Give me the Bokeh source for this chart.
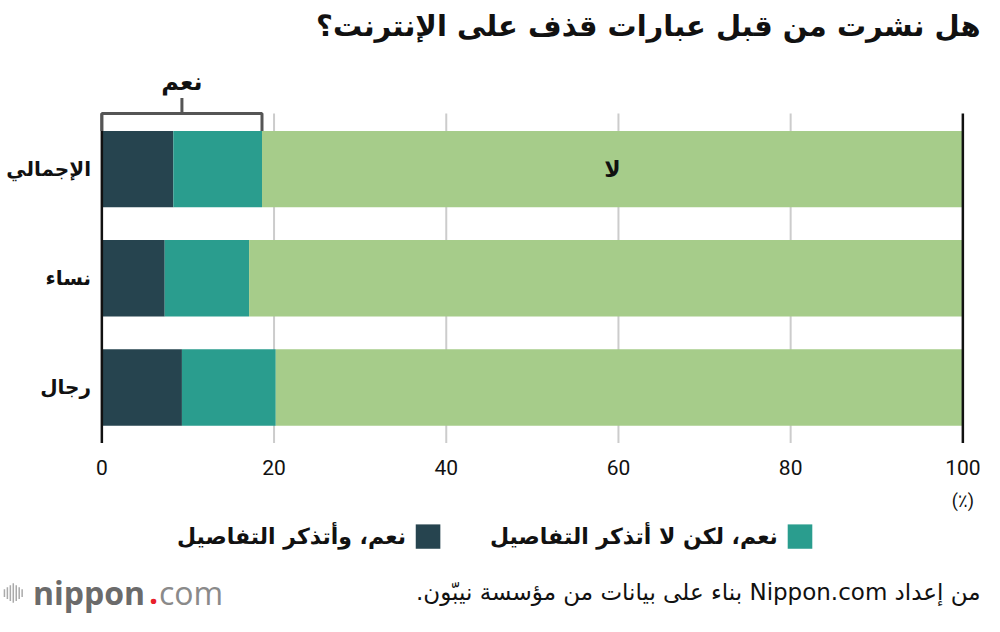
from bokeh.plotting import figure
from bokeh.models import Range1d
from bokeh.core.properties import value
from bokeh.embed import file_html
from bokeh.resources import INLINE

# ---------------- data ----------------
categories = ["الإجمالي", "نساء", "رجال"]
yes_remember = [8.3, 7.3, 9.3]          # نعم، وأتذكر التفاصيل
yes_not_remember = [10.3, 9.8, 10.9]    # نعم، لكن لا أتذكر التفاصيل
no_values = [81.4, 82.9, 79.8]          # لا
ticks = [0, 20, 40, 60, 80, 100]
tick_labels = ["0", "20", "40", "60", "80", "100"]
title_text = "هل نشرت من قبل عبارات قذف على الإنترنت؟"
legend_labels = ["نعم، لكن لا أتذكر التفاصيل", "نعم، وأتذكر التفاصيل"]
bracket_label = "نعم"
no_label = "لا"
unit_label = "(٪)"
source_text = "من إعداد Nippon.com بناء على بيانات من مؤسسة نيبّون."

# ---------------- style ----------------
C_DARK = "#26444f"
C_TEAL = "#2a9d8e"
C_GREEN = "#a6cc8a"
ARABIC_FONT = value("DejaVu Sans")
NUM_FONT = value("Roboto")

W, H = 984, 616

def rtl(s):
    return "\u202b" + s + "\u202c"

# layout coordinates (0..1000 x 0..632) -> data coordinates
def X(px):
    return (px - 103) / 8.75

def Y(py):
    return 3.0 - (py - 61) / 112.0

p = figure(width=W, height=H, output_backend="svg", toolbar_location=None,
           x_range=Range1d(X(0), X(1000)), y_range=Range1d(Y(632), Y(0)),
           min_border=0, min_border_left=0, min_border_right=0,
           min_border_top=0, min_border_bottom=0)
p.axis.visible = False
p.grid.visible = False
p.outline_line_color = None
p.background_fill_color = "white"
p.border_fill_color = "white"

n = len(categories)
ypos = [n - 1 - i for i in range(n)]
bar_h = 0.7

# gridlines (grey under bars)
inner = [t for t in ticks if 0 < t < 100]
outer = [t for t in ticks if t in (0, 100)]
grid_top = Y(116)
grid_bot = Y(454)
p.segment(x0=inner, y0=[grid_bot] * len(inner), x1=inner, y1=[grid_top] * len(inner),
          line_color="#cccccc", line_width=2)

# stacked bars
left1 = [0] * n
right1 = yes_remember
right2 = [a + b for a, b in zip(yes_remember, yes_not_remember)]
right3 = [a + b for a, b in zip(right2, no_values)]
p.hbar(y=ypos, left=left1, right=right1, height=bar_h, fill_color=C_DARK, line_color=None)
p.hbar(y=ypos, left=right1, right=right2, height=bar_h, fill_color=C_TEAL, line_color=None)
p.hbar(y=ypos, left=right2, right=right3, height=bar_h, fill_color=C_GREEN, line_color=None)

# black lines at 0 and 100
p.segment(x0=outer, y0=[grid_bot] * len(outer), x1=outer, y1=[grid_top] * len(outer),
          line_color="#111111", line_width=2.5)

# tick labels
p.text(x=ticks, y=[Y(479)] * len(ticks), text=tick_labels, text_align="center",
       text_baseline="middle", text_font=NUM_FONT, text_font_size="21px", text_color="#111111")
p.text(x=[100], y=[Y(513)], text=[unit_label], text_align="center", text_baseline="middle",
       text_font=NUM_FONT, text_font_size="18px", text_color="#111111")

# category labels
p.text(x=[X(92)] * n, y=ypos, text=[rtl(c) for c in categories], text_align="right",
       text_baseline="middle", text_font=ARABIC_FONT, text_font_size="20px",
       text_font_style="bold", text_color="#111111")

# bracket over "yes"
top_idx = 0
yes_total = right2[top_idx]
yb = Y(116)
ybar = ypos[top_idx] + bar_h / 2
ytick = Y(100)
p.multi_line(xs=[[0, 0, yes_total, yes_total], [yes_total / 2, yes_total / 2]],
             ys=[[ybar, yb, yb, ybar], [yb, ytick]],
             line_color="#555555", line_width=3)
p.text(x=[yes_total / 2], y=[Y(84)], text=[rtl(bracket_label)], text_align="center",
       text_baseline="middle", text_font=ARABIC_FONT, text_font_size="24px",
       text_font_style="bold", text_color="#111111")

# "no" label
p.text(x=[right2[top_idx] + no_values[top_idx] / 2], y=[ypos[top_idx]], text=[rtl(no_label)],
       text_align="center", text_baseline="middle", text_font=ARABIC_FONT,
       text_font_size="22px", text_font_style="bold", text_color="#111111")

# title
p.text(x=[X(996)], y=[Y(26)], text=[rtl(title_text)], text_align="right",
       text_baseline="middle", text_font=ARABIC_FONT, text_font_size="29px",
       text_font_style="bold", text_color="#111111")

# legend
sq = 25
p.rect(x=[X(812.5), X(434.5)], y=[Y(550)] * 2, width=sq / 8.75, height=sq / 112.0,
       fill_color=[C_TEAL, C_DARK], line_color=None)
p.text(x=[X(790), X(412)], y=[Y(550)] * 2, text=[rtl(t) for t in legend_labels],
       text_align="right", text_baseline="middle", text_font=ARABIC_FONT,
       text_font_size="22px", text_font_style="bold", text_color="#111111")

# source
p.text(x=[X(996)], y=[Y(607)], text=[rtl(source_text)], text_align="right",
       text_baseline="middle", text_font=ARABIC_FONT, text_font_size="23px",
       text_color="#111111")

# logo
bx = [X(4), X(7), X(10), X(13), X(16), X(19), X(22)]
bh = [8, 12, 16, 20, 16, 12, 8]
p.segment(x0=bx, y0=[Y(608 + h / 2) for h in bh], x1=bx, y1=[Y(608 - h / 2) for h in bh],
          line_color="#aaaaaa", line_width=1.5)
p.text(x=[X(33)], y=[Y(607)], text=["nippon"], text_align="left", text_baseline="middle",
       text_font=value("Open Sans"), text_font_size="32px", text_font_style="bold",
       text_color="#6b6b6b")
p.text(x=[X(151)], y=[Y(607)], text=["."], text_align="left", text_baseline="middle",
       text_font=value("Open Sans"), text_font_size="32px", text_font_style="bold",
       text_color="#e8202a")
p.text(x=[X(161)], y=[Y(607)], text=["com"], text_align="left", text_baseline="middle",
       text_font=value("Open Sans"), text_font_size="32px", text_color="#8a8a8a")

open("out.html", "w").write(file_html(p, INLINE))
